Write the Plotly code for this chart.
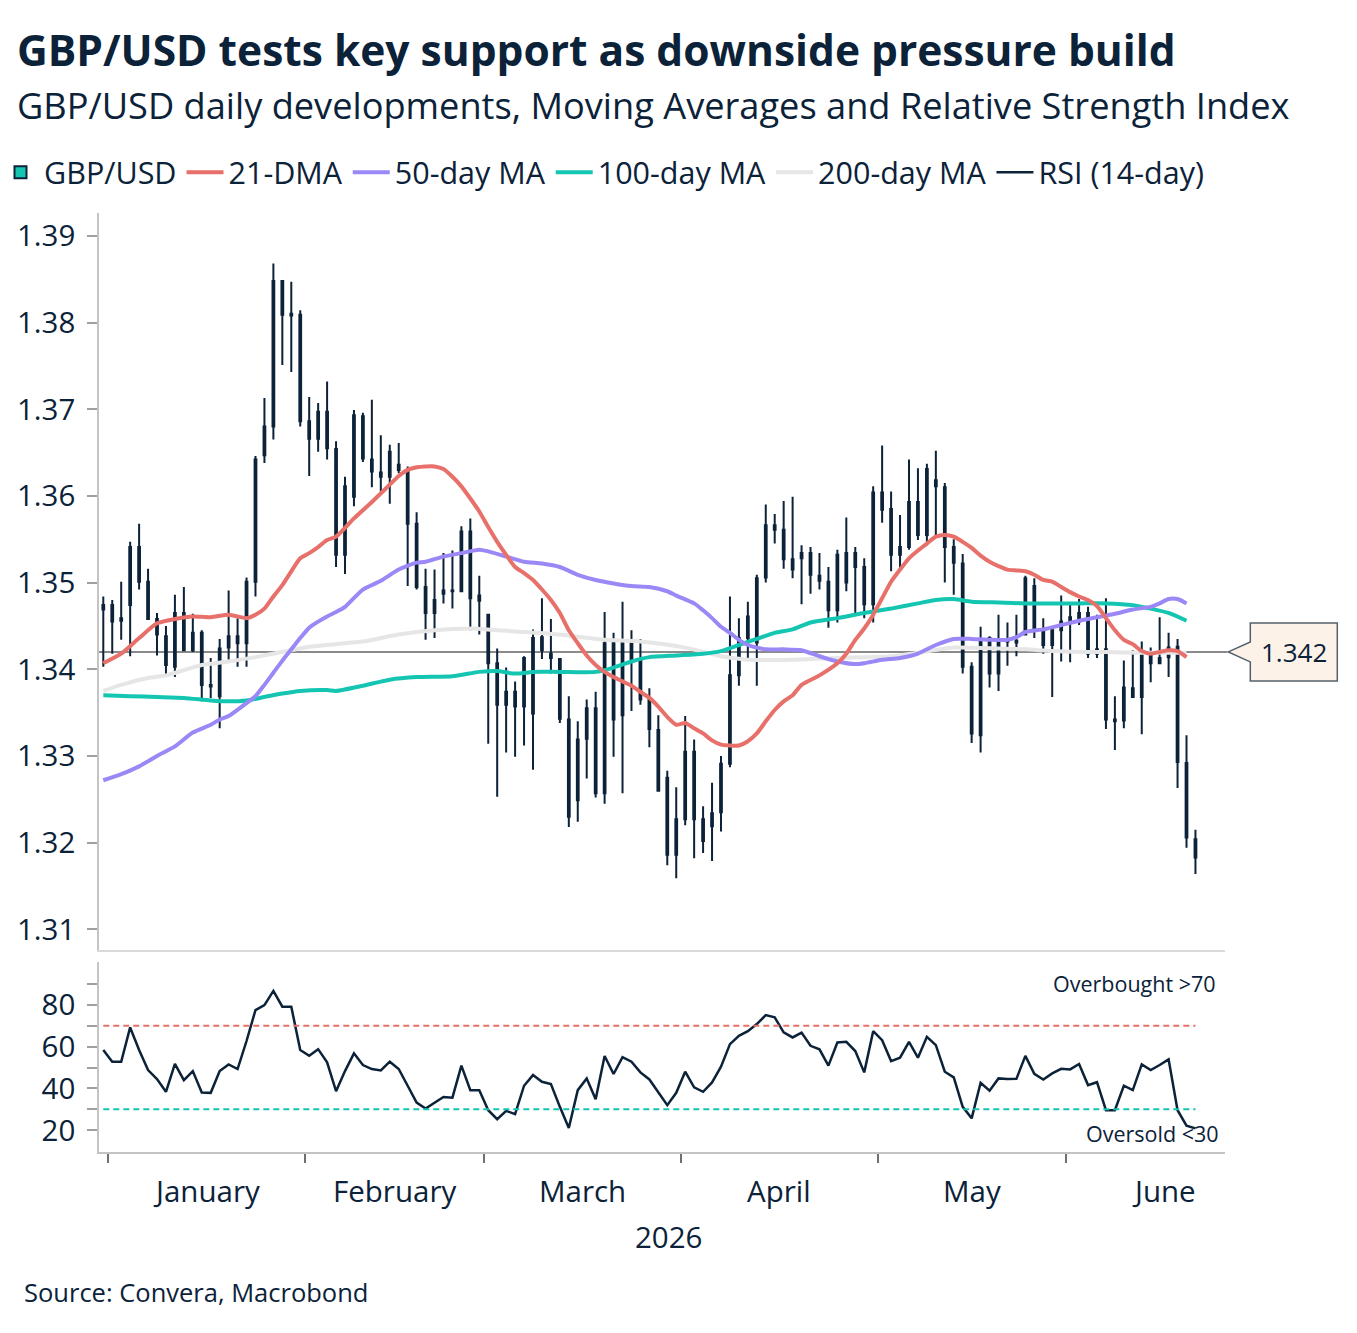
import numpy as np
import pandas as pd
import plotly.graph_objects as go

# GBP/USD daily candles (one per weekday, from 31 Dec 2025)
gbp_open = [
    1.3469, 1.3474, 1.3456, 1.3474, 1.3541, 1.3501, 1.3458, 1.3438, 1.3403, 1.3465,
    1.3422, 1.3442, 1.3382, 1.3369, 1.3425, 1.3438, 1.3430, 1.3501, 1.3647, 1.3680,
    1.3848, 1.3810, 1.3809, 1.3686, 1.3666, 1.3697, 1.3654, 1.3532, 1.3599, 1.3692,
    1.3642, 1.3627, 1.3622, 1.3636, 1.3629, 1.3568, 1.3495, 1.3465, 1.3487, 1.3491,
    1.3490, 1.3559, 1.3485, 1.3463, 1.3407, 1.3359, 1.3374, 1.3357, 1.3349, 1.3437,
    1.3418, 1.3412, 1.3342, 1.3249, 1.3320, 1.3355, 1.3257, 1.3430, 1.3347, 1.3430,
    1.3412, 1.3365, 1.3330, 1.3275, 1.3186, 1.3227, 1.3305, 1.3227, 1.3219, 1.3235,
    1.3291, 1.3393, 1.3436, 1.3431, 1.3506, 1.3566, 1.3561, 1.3527, 1.3528, 1.3534,
    1.3508, 1.3501, 1.3468, 1.3500, 1.3534, 1.3518, 1.3475, 1.3604, 1.3585, 1.3532,
    1.3541, 1.3593, 1.3555, 1.3618, 1.3610, 1.3541, 1.3522, 1.3403, 1.3324, 1.3436,
    1.3395, 1.3435, 1.3431, 1.3440, 1.3496, 1.3445, 1.3428, 1.3445, 1.3460, 1.3455,
    1.3465, 1.3418, 1.3423, 1.3342, 1.3341, 1.3378, 1.3368, 1.3416, 1.3407, 1.3414,
    1.3426, 1.3292, 1.3204,
]
gbp_high = [
    1.3484, 1.3480, 1.3501, 1.3547, 1.3568, 1.3516, 1.3465, 1.3450, 1.3486, 1.3495,
    1.3464, 1.3445, 1.3413, 1.3435, 1.3491, 1.3459, 1.3506, 1.3646, 1.3713, 1.3868,
    1.3848, 1.3847, 1.3814, 1.3714, 1.3707, 1.3732, 1.3663, 1.3622, 1.3699, 1.3696,
    1.3711, 1.3670, 1.3659, 1.3661, 1.3634, 1.3581, 1.3516, 1.3515, 1.3534, 1.3537,
    1.3565, 1.3574, 1.3508, 1.3463, 1.3424, 1.3402, 1.3386, 1.3415, 1.3446, 1.3482,
    1.3458, 1.3413, 1.3369, 1.3340, 1.3365, 1.3374, 1.3466, 1.3442, 1.3478, 1.3445,
    1.3435, 1.3378, 1.3347, 1.3283, 1.3264, 1.3346, 1.3319, 1.3242, 1.3269, 1.3300,
    1.3484, 1.3459, 1.3478, 1.3509, 1.3590, 1.3579, 1.3594, 1.3599, 1.3543, 1.3541,
    1.3534, 1.3518, 1.3538, 1.3575, 1.3541, 1.3528, 1.3611, 1.3658, 1.3605, 1.3578,
    1.3642, 1.3632, 1.3637, 1.3652, 1.3615, 1.3550, 1.3533, 1.3408, 1.3449, 1.3438,
    1.3463, 1.3454, 1.3463, 1.3508, 1.3505, 1.3459, 1.3450, 1.3485, 1.3475, 1.3481,
    1.3472, 1.3463, 1.3482, 1.3369, 1.3410, 1.3422, 1.3432, 1.3425, 1.3460, 1.3442,
    1.3435, 1.3324, 1.3215,
]
gbp_low = [
    1.3403, 1.3418, 1.3434, 1.3415, 1.3492, 1.3457, 1.3416, 1.3393, 1.3391, 1.3421,
    1.3420, 1.3363, 1.3367, 1.3332, 1.3411, 1.3403, 1.3403, 1.3484, 1.3638, 1.3665,
    1.3751, 1.3743, 1.3680, 1.3623, 1.3651, 1.3642, 1.3518, 1.3510, 1.3588, 1.3639,
    1.3610, 1.3605, 1.3591, 1.3626, 1.3496, 1.3492, 1.3434, 1.3436, 1.3476, 1.3470,
    1.3489, 1.3445, 1.3440, 1.3314, 1.3253, 1.3304, 1.3299, 1.3312, 1.3284, 1.3412,
    1.3395, 1.3338, 1.3218, 1.3224, 1.3274, 1.3252, 1.3245, 1.3299, 1.3257, 1.3352,
    1.3359, 1.3310, 1.3259, 1.3174, 1.3159, 1.3220, 1.3182, 1.3188, 1.3179, 1.3213,
    1.3287, 1.3381, 1.3412, 1.3381, 1.3500, 1.3545, 1.3516, 1.3505, 1.3475, 1.3487,
    1.3492, 1.3448, 1.3454, 1.3490, 1.3464, 1.3459, 1.3454, 1.3569, 1.3513, 1.3515,
    1.3538, 1.3549, 1.3547, 1.3552, 1.3500, 1.3486, 1.3395, 1.3315, 1.3304, 1.3379,
    1.3375, 1.3404, 1.3415, 1.3439, 1.3436, 1.3418, 1.3368, 1.3409, 1.3408, 1.3451,
    1.3413, 1.3413, 1.3331, 1.3307, 1.3332, 1.3367, 1.3325, 1.3385, 1.3406, 1.3391,
    1.3263, 1.3194, 1.3164,
]
gbp_close = [
    1.3474, 1.3455, 1.3459, 1.3541, 1.3501, 1.3458, 1.3440, 1.3405, 1.3465, 1.3422,
    1.3442, 1.3382, 1.3380, 1.3424, 1.3438, 1.3430, 1.3501, 1.3642, 1.3680, 1.3848,
    1.3809, 1.3808, 1.3686, 1.3666, 1.3697, 1.3655, 1.3532, 1.3611, 1.3693, 1.3643,
    1.3628, 1.3622, 1.3651, 1.3630, 1.3568, 1.3495, 1.3465, 1.3480, 1.3491, 1.3490,
    1.3559, 1.3482, 1.3479, 1.3407, 1.3359, 1.3374, 1.3357, 1.3413, 1.3436, 1.3422,
    1.3413, 1.3343, 1.3230, 1.3319, 1.3355, 1.3257, 1.3430, 1.3342, 1.3430, 1.3412,
    1.3365, 1.3331, 1.3260, 1.3186, 1.3227, 1.3305, 1.3227, 1.3202, 1.3234, 1.3291,
    1.3393, 1.3436, 1.3461, 1.3505, 1.3566, 1.3561, 1.3527, 1.3515, 1.3534, 1.3509,
    1.3502, 1.3468, 1.3532, 1.3534, 1.3518, 1.3475, 1.3604, 1.3584, 1.3532, 1.3541,
    1.3593, 1.3555, 1.3631, 1.3611, 1.3541, 1.3523, 1.3403, 1.3326, 1.3434, 1.3395,
    1.3435, 1.3432, 1.3433, 1.3505, 1.3447, 1.3428, 1.3445, 1.3455, 1.3454, 1.3465,
    1.3418, 1.3423, 1.3342, 1.3340, 1.3379, 1.3368, 1.3416, 1.3407, 1.3413, 1.3425,
    1.3293, 1.3206, 1.3183,
]

# RSI (14-day), one value per candle
rsi = [
    58.4, 52.8, 52.8, 69.2, 58.4, 48.8, 44.5, 38.4, 51.8, 44.0,
    48.3, 38.1, 37.9, 48.3, 51.5, 49.3, 62.7, 77.5, 79.9, 86.7,
    79.1, 79.1, 58.4, 55.6, 58.8, 52.5, 38.7, 48.3, 56.8, 51.2,
    49.3, 48.6, 52.8, 49.3, 41.3, 33.2, 30.4, 33.3, 35.9, 35.6,
    50.9, 39.2, 39.2, 29.6, 25.3, 29.3, 27.7, 41.3, 46.4, 43.2,
    42.1, 31.2, 21.1, 39.2, 44.8, 34.8, 55.5, 46.9, 55.0, 52.8,
    47.7, 44.3, 38.1, 32.0, 37.9, 48.0, 40.5, 38.4, 42.9, 50.4,
    61.2, 65.2, 67.4, 70.8, 75.1, 74.0, 66.8, 64.4, 66.7, 60.4,
    58.7, 50.9, 62.0, 62.3, 57.9, 47.7, 67.4, 63.1, 53.1, 54.7,
    62.3, 54.7, 64.7, 60.7, 48.0, 45.3, 31.2, 25.7, 42.7, 38.9,
    44.8, 44.5, 44.6, 55.6, 47.0, 44.3, 47.2, 49.4, 49.1, 51.7,
    41.6, 43.0, 29.6, 29.6, 41.3, 39.2, 51.5, 48.8, 51.2, 53.9,
    29.6, 22.2, 20.9,
]

# moving averages (trading-day number, level)
dma21_day = [0, 2, 4, 6, 8, 10, 12, 14, 16, 17, 18, 19, 20, 21, 22, 23, 24, 25, 26, 28,
             30, 32, 33, 34, 35, 36, 37, 38, 39, 40, 41, 42, 43, 44, 45, 46, 47, 48, 49, 50,
             51, 52, 53, 54, 55, 56, 57, 58, 59, 60, 61, 62, 63, 64, 65, 66, 67, 68, 69, 70,
             71, 72, 73, 74, 75, 76, 77, 78, 80, 82, 83, 84, 85, 86, 87, 88, 89, 90, 91, 92,
             93, 94, 95, 96, 97, 98, 99, 100, 101, 102, 103, 104, 105, 106, 107, 108, 109, 110,
             111, 112, 113, 114, 115, 116, 117, 118, 119, 120, 121]
dma21 = [1.3407, 1.3418, 1.3436, 1.3453, 1.3458, 1.3461, 1.3460, 1.3463, 1.3459, 1.3463,
         1.3470, 1.3484, 1.3497, 1.3513, 1.3528, 1.3534, 1.3541, 1.3549, 1.3553, 1.3574,
         1.3593, 1.3613, 1.3623, 1.3630, 1.3633, 1.3634, 1.3634, 1.3631, 1.3622, 1.3611,
         1.3597, 1.3582, 1.3564, 1.3547, 1.3532, 1.3518, 1.3511, 1.3503, 1.3492, 1.3480,
         1.3465, 1.3445, 1.3430, 1.3416, 1.3405, 1.3397, 1.3391, 1.3386, 1.3381, 1.3374,
         1.3367, 1.3357, 1.3345, 1.3336, 1.3338, 1.3332, 1.3326, 1.3318, 1.3313, 1.3312,
         1.3312, 1.3317, 1.3326, 1.3340, 1.3353, 1.3363, 1.3370, 1.3382, 1.3393, 1.3407,
         1.3418, 1.3434, 1.3447, 1.3463, 1.3482, 1.3501, 1.3515, 1.3528, 1.3537, 1.3545,
         1.3553, 1.3555, 1.3553, 1.3547, 1.3540, 1.3531, 1.3524, 1.3519, 1.3515, 1.3514,
         1.3513, 1.3509, 1.3503, 1.3501, 1.3495, 1.3489, 1.3484, 1.3480, 1.3473, 1.3459,
         1.3445, 1.3434, 1.3429, 1.3421, 1.3418, 1.3420, 1.3422, 1.3421, 1.3414]

ma50_day = [0, 2, 4, 6, 8, 10, 12, 13, 14, 16, 17, 18, 19, 20, 21, 22, 23, 24, 25, 26,
            27, 29, 31, 33, 35, 36, 38, 40, 42, 43, 45, 47, 49, 51, 53, 55, 57, 59, 61, 63,
            64, 66, 67, 68, 69, 70, 71, 72, 73, 74, 76, 78, 80, 82, 84, 85, 87, 89, 91, 93,
            95, 97, 99, 101, 102, 103, 105, 107, 109, 111, 113, 115, 117, 118, 119, 120, 121]
ma50 = [1.3272, 1.3279, 1.3288, 1.3300, 1.3311, 1.3327, 1.3336, 1.3342, 1.3346, 1.3361,
        1.3369, 1.3382, 1.3396, 1.3410, 1.3423, 1.3436, 1.3448, 1.3455, 1.3461, 1.3466,
        1.3472, 1.3492, 1.3502, 1.3515, 1.3523, 1.3524, 1.3530, 1.3534, 1.3538, 1.3536,
        1.3530, 1.3524, 1.3522, 1.3518, 1.3509, 1.3503, 1.3499, 1.3496, 1.3495, 1.3490,
        1.3485, 1.3476, 1.3468, 1.3459, 1.3449, 1.3442, 1.3434, 1.3428, 1.3425, 1.3423,
        1.3423, 1.3422, 1.3415, 1.3409, 1.3406, 1.3407, 1.3411, 1.3413, 1.3418, 1.3428,
        1.3435, 1.3435, 1.3434, 1.3434, 1.3437, 1.3443, 1.3446, 1.3451, 1.3456, 1.3460,
        1.3464, 1.3469, 1.3472, 1.3476, 1.3481, 1.3481, 1.3476]

ma100_day = [0, 3, 6, 9, 12, 14, 16, 18, 20, 22, 25, 26, 29, 32, 35, 39, 42, 44, 46, 48,
             51, 55, 57, 59, 61, 64, 67, 69, 71, 73, 75, 77, 79, 82, 85, 88, 91, 93, 95, 97,
             100, 103, 106, 109, 112, 115, 117, 119, 121]
ma100 = [1.3370, 1.3369, 1.3368, 1.3367, 1.3364, 1.3363, 1.3364, 1.3368, 1.3372, 1.3375,
         1.3376, 1.3375, 1.3381, 1.3388, 1.3391, 1.3392, 1.3397, 1.3398, 1.3395, 1.3397,
         1.3397, 1.3397, 1.3402, 1.3409, 1.3414, 1.3416, 1.3418, 1.3421, 1.3428, 1.3435,
         1.3442, 1.3446, 1.3454, 1.3459, 1.3465, 1.3470, 1.3476, 1.3480, 1.3481, 1.3478,
         1.3477, 1.3476, 1.3476, 1.3476, 1.3476, 1.3474, 1.3470, 1.3465, 1.3456]

ma200_day = [0, 2, 5, 7, 9, 11, 14, 17, 20, 23, 26, 29, 33, 37, 41, 44, 47, 51, 56, 60,
             65, 69, 72, 77, 82, 88, 91, 95, 100, 103, 106, 109, 112, 116, 121]
ma200 = [1.3375, 1.3382, 1.3390, 1.3393, 1.3399, 1.3405, 1.3409, 1.3414, 1.3420, 1.3426,
         1.3429, 1.3432, 1.3440, 1.3445, 1.3447, 1.3445, 1.3443, 1.3440, 1.3434, 1.3432,
         1.3425, 1.3415, 1.3411, 1.3411, 1.3413, 1.3415, 1.3419, 1.3425, 1.3424, 1.3423,
         1.3421, 1.3420, 1.3420, 1.3419, 1.3419]

support_level = 1.342
month_labels = ["January", "February", "March", "April", "May", "June"]
year_label = "2026"

NAVY = "#0b2239"
RED = "#e8706a"
PURPLE = "#9b87f5"
TEAL = "#14c6b1"
LIGHT = "#e6e6e6"
AXIS = "#c4c4c4"
FONT = "Open Sans"

# x positions: one slot per weekday
dates = pd.bdate_range("2025-12-31", periods=len(gbp_close))
day = np.arange(len(dates))
xrange_ = [-0.48, 125.3]

# month boundaries and centres (full months of weekdays)
month_ticks, month_centres = [], []
for m in pd.period_range("2026-01", "2026-06", freq="M"):
    first = int(np.searchsorted(dates, m.start_time))
    n_days = len(pd.bdate_range(m.start_time, m.end_time.normalize()))
    month_ticks.append(first - 0.5)
    month_centres.append(first - 0.5 + n_days / 2)

# plot area sits at 99..1225 x 213..1152 on the page
def px_x(px):
    return (px - 99) / 1126


def px_y(py):
    return (1152 - py) / 939


fig = go.Figure()

# legend-only swatch for the candles
fig.add_trace(go.Scatter(
    x=[None], y=[None], mode="markers", name="GBP/USD",
    marker=dict(symbol="square", size=12, color=TEAL, line=dict(color=NAVY, width=2)),
    legendrank=1,
))

ma_styles = [
    ("21-DMA", dma21_day, dma21, RED, 2),
    ("50-day MA", ma50_day, ma50, PURPLE, 3),
    ("100-day MA", ma100_day, ma100, TEAL, 4),
    ("200-day MA", ma200_day, ma200, LIGHT, 5),
]
for name, xs, ys, color, rank in reversed(ma_styles):
    fig.add_trace(go.Scatter(
        x=xs, y=ys, mode="lines", name=name, legendrank=rank,
        line=dict(color=color, width=4, shape="spline", smoothing=0.6),
        xaxis="x", yaxis="y", hoverinfo="skip",
    ))

fig.add_trace(go.Candlestick(
    x=day, open=gbp_open, high=gbp_high, low=gbp_low, close=gbp_close,
    increasing=dict(line=dict(color=NAVY, width=2), fillcolor=NAVY),
    decreasing=dict(line=dict(color=NAVY, width=2), fillcolor=NAVY),
    whiskerwidth=0, showlegend=False, name="GBP/USD",
    xaxis="x", yaxis="y",
))

fig.add_trace(go.Scatter(
    x=day, y=rsi, mode="lines", name="RSI (14-day)", legendrank=6,
    line=dict(color=NAVY, width=2.5), xaxis="x2", yaxis="y2",
))

# support line + callout
fig.add_shape(type="line", xref="paper", yref="y", x0=0, x1=1.002,
              y0=support_level, y1=support_level,
              line=dict(color="#8a8a8a", width=2), layer="below")
fig.add_shape(type="path", xref="paper", yref="y", xsizemode="pixel", ysizemode="pixel",
              xanchor=px_x(1228.3), yanchor=support_level,
              path="M0,0 L22,10 L22,29 L109,29 L109,-29 L22,-29 L22,-10 Z",
              fillcolor="#fdf2e8", line=dict(color="#55606b", width=1.5))
fig.add_annotation(xref="paper", yref="y", x=px_x(1294), y=support_level,
                   xanchor="center", yanchor="middle",
                   text=f"{support_level:.3f}", showarrow=False,
                   font=dict(size=26, color=NAVY))

# RSI thresholds
for level, color in [(70, RED), (30, TEAL)]:
    fig.add_shape(type="line", xref="x2", yref="y2", x0=day[0], x1=day[-1],
                  y0=level, y1=level, line=dict(color=color, width=2, dash="6px,4px"))

fig.add_annotation(xref="paper", yref="paper", x=px_x(1218), y=px_y(983),
                   xanchor="right", yanchor="middle", showarrow=False,
                   text="Overbought >70", font=dict(size=21.5, color=NAVY))
fig.add_annotation(xref="paper", yref="paper", x=px_x(1221), y=px_y(1133),
                   xanchor="right", yanchor="middle", showarrow=False,
                   text="Oversold <30", font=dict(size=21.5, color=NAVY))

# month labels + year
for lab, cx in zip(month_labels, month_centres):
    fig.add_annotation(xref="x2", yref="paper", x=cx, y=px_y(1190),
                       text=lab, showarrow=False, xanchor="center", yanchor="middle",
                       font=dict(size=29.5, color=NAVY))
fig.add_annotation(xref="paper", yref="paper", x=px_x(668), y=px_y(1236),
                   text=year_label, showarrow=False, xanchor="center", yanchor="middle",
                   font=dict(size=29.5, color=NAVY))

# title, subtitle, source
fig.add_annotation(xref="paper", yref="paper", x=px_x(15), y=px_y(49),
                   xanchor="left", yanchor="middle", showarrow=False,
                   text="<b>GBP/USD tests key support as downside pressure build</b>",
                   font=dict(size=42.5, color=NAVY))
fig.add_annotation(xref="paper", yref="paper", x=px_x(15), y=px_y(105),
                   xanchor="left", yanchor="middle", showarrow=False,
                   text="GBP/USD daily developments, Moving Averages and Relative Strength Index",
                   font=dict(size=36.2, color=NAVY))
fig.add_annotation(xref="paper", yref="paper", x=px_x(22), y=px_y(1292),
                   xanchor="left", yanchor="middle", showarrow=False,
                   text="Source: Convera, Macrobond",
                   font=dict(size=25.5, color=NAVY))

# the page puts the figure 8px in from the top-left corner
fig.update_layout(
    width=1349,
    height=1325,
    margin=dict(l=91, r=132, t=205, b=181, autoexpand=False),
    plot_bgcolor="white",
    paper_bgcolor="white",
    font=dict(family=FONT, color=NAVY, size=26),
    boxgap=0.72,
    showlegend=True,
    legend=dict(
        orientation="h", x=px_x(-3), y=px_y(146), xanchor="left", yanchor="top",
        font=dict(size=30.5, color=NAVY), bgcolor="rgba(0,0,0,0)", itemwidth=37,
        traceorder="normal",
    ),
    xaxis=dict(
        domain=[0, 1], range=xrange_, anchor="y", showgrid=False, zeroline=False,
        showline=True, linecolor="#d9d9d9", linewidth=1.5, ticks="", showticklabels=False,
        rangeslider=dict(visible=False), automargin=False,
    ),
    yaxis=dict(
        domain=[px_y(950), 1], range=[1.30762, 1.39263], anchor="x",
        dtick=0.01, tick0=1.31, tickformat=".2f", showgrid=False, zeroline=False,
        showline=True, linecolor=AXIS, linewidth=1.5,
        ticks="outside", ticklen=10, tickcolor="#a0a0a0", tickwidth=1.5,
        ticklabelstandoff=6, tickfont=dict(size=29.5, color=NAVY), automargin=False,
    ),
    xaxis2=dict(
        domain=[0, 1], range=xrange_, anchor="y2", showgrid=False, zeroline=False,
        showline=True, linecolor=AXIS, linewidth=1.5,
        tickmode="array", tickvals=month_ticks, showticklabels=False,
        ticks="outside", ticklen=9, tickcolor="#707070", tickwidth=2, automargin=False,
    ),
    yaxis2=dict(
        domain=[0, px_y(962)], range=[9.6, 100.5], anchor="x2",
        tickmode="array", tickvals=[20, 30, 40, 50, 60, 70, 80, 90],
        ticktext=["20", "", "40", "", "60", "", "80", ""],
        showgrid=False, zeroline=False, showline=True, linecolor=AXIS, linewidth=1.5,
        ticks="outside", ticklen=10, tickcolor="#a0a0a0", tickwidth=1.5,
        ticklabelstandoff=6, tickfont=dict(size=29.5, color=NAVY), automargin=False,
    ),
)

fig.write_html("out.html")
